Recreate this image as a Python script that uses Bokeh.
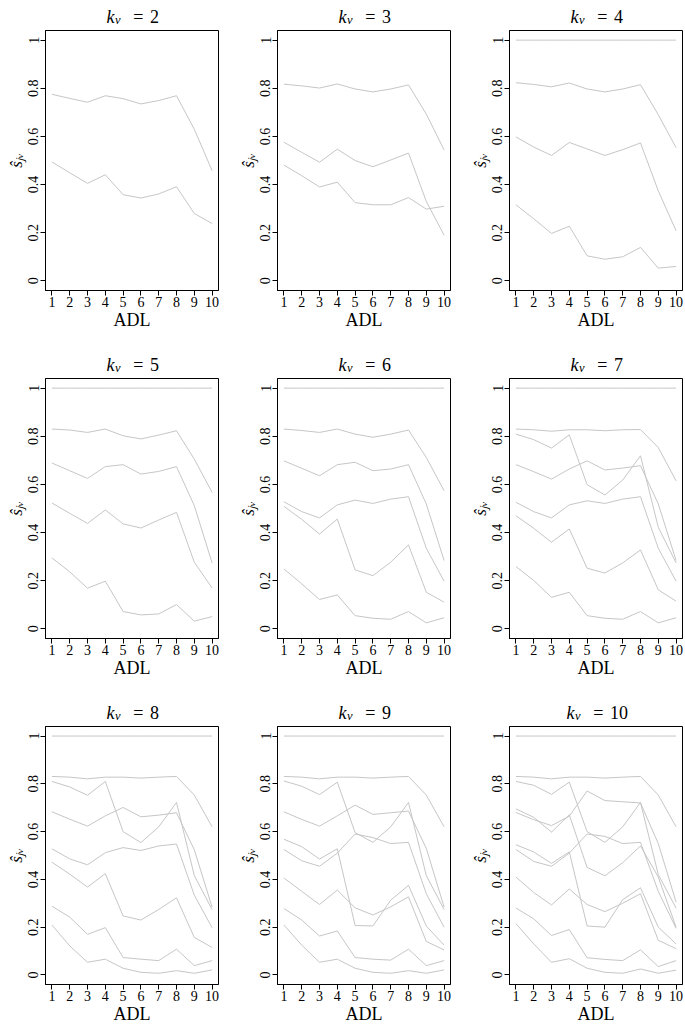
import math
from bokeh.plotting import figure
from bokeh.models import Range1d, FixedTicker, CustomJSTickFormatter
from bokeh.core.properties import value
from bokeh.layouts import column, row
from bokeh.embed import file_html
from bokeh.resources import INLINE

# ---------------- data ----------------
ADL = [1, 2, 3, 4, 5, 6, 7, 8, 9, 10]
KV = [2, 3, 4, 5, 6, 7, 8, 9, 10]
Y_TICKS = [0, 0.2, 0.4, 0.6, 0.8, 1]
Y_LABEL = "\u015d\u2c7c\u1d65"   # s-hat with subscript j v

ONE = [1.0, 1.0, 1.0, 1.0, 1.0, 1.0, 1.0, 1.0, 1.0, 1.0]

s_kv2 = [
    [0.775, 0.758, 0.742, 0.769, 0.757, 0.735, 0.749, 0.769, 0.630, 0.458],
    [0.494, 0.449, 0.405, 0.441, 0.358, 0.344, 0.361, 0.391, 0.280, 0.238],
]
s_kv3 = [
    [0.817, 0.810, 0.801, 0.818, 0.797, 0.785, 0.797, 0.814, 0.693, 0.544],
    [0.576, 0.534, 0.493, 0.547, 0.500, 0.474, 0.502, 0.531, 0.330, 0.190],
    [0.481, 0.437, 0.390, 0.410, 0.325, 0.316, 0.316, 0.346, 0.298, 0.310],
]
s_kv4 = [
    ONE,
    [0.823, 0.816, 0.806, 0.822, 0.797, 0.785, 0.797, 0.815, 0.690, 0.553],
    [0.598, 0.556, 0.521, 0.575, 0.548, 0.521, 0.545, 0.573, 0.374, 0.208],
    [0.316, 0.258, 0.197, 0.227, 0.104, 0.090, 0.100, 0.139, 0.053, 0.060],
]
s_kv5 = [
    ONE,
    [0.830, 0.826, 0.816, 0.830, 0.802, 0.789, 0.805, 0.823, 0.705, 0.567],
    [0.689, 0.657, 0.625, 0.674, 0.682, 0.643, 0.654, 0.674, 0.512, 0.274],
    [0.523, 0.480, 0.438, 0.494, 0.436, 0.419, 0.452, 0.484, 0.277, 0.170],
    [0.295, 0.237, 0.169, 0.198, 0.072, 0.058, 0.062, 0.101, 0.032, 0.051],
]
s_kv6 = [
    ONE,
    [0.830, 0.824, 0.816, 0.830, 0.809, 0.796, 0.809, 0.826, 0.712, 0.574],
    [0.698, 0.667, 0.636, 0.682, 0.692, 0.657, 0.664, 0.682, 0.519, 0.284],
    [0.528, 0.487, 0.461, 0.515, 0.535, 0.521, 0.539, 0.549, 0.335, 0.198],
    [0.509, 0.455, 0.394, 0.456, 0.245, 0.221, 0.277, 0.349, 0.152, 0.111],
    [0.249, 0.187, 0.122, 0.141, 0.055, 0.044, 0.040, 0.072, 0.025, 0.046],
]
s_kv7 = [
    ONE,
    [0.830, 0.827, 0.821, 0.827, 0.827, 0.823, 0.827, 0.828, 0.753, 0.615],
    [0.809, 0.786, 0.751, 0.806, 0.599, 0.556, 0.618, 0.719, 0.422, 0.274],
    [0.682, 0.653, 0.622, 0.664, 0.698, 0.660, 0.668, 0.678, 0.519, 0.284],
    [0.526, 0.487, 0.461, 0.515, 0.532, 0.521, 0.539, 0.549, 0.335, 0.198],
    [0.470, 0.418, 0.360, 0.415, 0.252, 0.232, 0.274, 0.328, 0.162, 0.115],
    [0.259, 0.201, 0.131, 0.152, 0.055, 0.044, 0.040, 0.072, 0.025, 0.046],
]
s_kv8 = [
    ONE,
    [0.831, 0.828, 0.821, 0.828, 0.828, 0.824, 0.828, 0.831, 0.753, 0.620],
    [0.810, 0.787, 0.752, 0.810, 0.600, 0.554, 0.620, 0.722, 0.416, 0.274],
    [0.683, 0.652, 0.623, 0.666, 0.701, 0.662, 0.669, 0.679, 0.524, 0.284],
    [0.528, 0.486, 0.461, 0.512, 0.533, 0.521, 0.540, 0.548, 0.334, 0.198],
    [0.472, 0.422, 0.368, 0.424, 0.247, 0.230, 0.274, 0.323, 0.157, 0.115],
    [0.288, 0.242, 0.170, 0.198, 0.073, 0.066, 0.060, 0.108, 0.039, 0.060],
    [0.209, 0.122, 0.053, 0.066, 0.028, 0.011, 0.007, 0.018, 0.007, 0.021],
]
s_kv9 = [
    ONE,
    [0.831, 0.828, 0.821, 0.828, 0.828, 0.824, 0.828, 0.831, 0.753, 0.620],
    [0.812, 0.790, 0.755, 0.807, 0.596, 0.555, 0.620, 0.722, 0.416, 0.274],
    [0.683, 0.651, 0.623, 0.666, 0.711, 0.672, 0.679, 0.686, 0.530, 0.284],
    [0.568, 0.537, 0.485, 0.528, 0.207, 0.205, 0.313, 0.375, 0.205, 0.125],
    [0.525, 0.478, 0.455, 0.510, 0.590, 0.575, 0.550, 0.555, 0.340, 0.200],
    [0.406, 0.350, 0.295, 0.355, 0.281, 0.251, 0.285, 0.327, 0.140, 0.105],
    [0.278, 0.230, 0.163, 0.184, 0.073, 0.066, 0.062, 0.108, 0.039, 0.060],
    [0.209, 0.125, 0.053, 0.066, 0.028, 0.011, 0.007, 0.018, 0.007, 0.021],
]
s_kv10 = [
    ONE,
    [0.831, 0.828, 0.821, 0.828, 0.828, 0.824, 0.828, 0.831, 0.753, 0.620],
    [0.810, 0.794, 0.756, 0.807, 0.600, 0.555, 0.620, 0.722, 0.420, 0.280],
    [0.695, 0.660, 0.598, 0.670, 0.450, 0.415, 0.470, 0.540, 0.410, 0.200],
    [0.680, 0.650, 0.625, 0.665, 0.770, 0.730, 0.725, 0.720, 0.550, 0.305],
    [0.545, 0.515, 0.467, 0.515, 0.205, 0.200, 0.315, 0.365, 0.200, 0.130],
    [0.525, 0.475, 0.455, 0.510, 0.590, 0.580, 0.550, 0.555, 0.350, 0.195],
    [0.410, 0.345, 0.293, 0.360, 0.295, 0.265, 0.300, 0.340, 0.145, 0.110],
    [0.280, 0.235, 0.165, 0.190, 0.072, 0.065, 0.060, 0.105, 0.035, 0.060],
    [0.215, 0.130, 0.053, 0.068, 0.028, 0.011, 0.007, 0.025, 0.007, 0.020],
]
PANELS = [s_kv2, s_kv3, s_kv4, s_kv5, s_kv6, s_kv7, s_kv8, s_kv9, s_kv10]

# ---------------- style / layout ----------------
SERIF = "Liberation Serif"
LINE_COLOR = "#c6c6c6"
CELL_W = [232, 232, 221]       # cell widths per column
B_RIGHT = [14, 14, 3]
FRAME_LEFT = 45                # frame left edge inside a cell
FRAME_W = 173
CELL_H = [348, 348, 330]       # cell heights per row
TITLE_H = [28, 28, 28]         # strip holding the panel title
B_TOP = 2
B_BOTTOM = [58, 58, 40]
X_LO, X_HI = 0.64, 10.36
Y_LO, Y_HI = -0.04, 1.04


def txt(p, x, y, text, size="14px", style="normal", align="left",
        baseline="alphabetic"):
    p.text(x=[x], y=[y], text=[text],
           text_font=value(SERIF), text_font_size=value(size),
           text_font_style=value(style), text_align=value(align),
           text_baseline=value(baseline), text_color="black")


def title_strip(kv, r, c):
    w, h = CELL_W[c], TITLE_H[r]
    # the strip's frame is aligned by the layout with the panel frame below,
    # so x runs in pixels across the panel frame width
    p = figure(width=w, height=h, x_range=Range1d(0, FRAME_W), y_range=Range1d(0, h),
               x_axis_type=None, y_axis_type=None,
               output_backend="svg", toolbar_location=None,
               min_border=0, min_border_left=FRAME_LEFT, min_border_right=B_RIGHT[c],
               min_border_top=0, min_border_bottom=0)
    p.outline_line_color = None
    p.background_fill_color = "white"
    p.border_fill_color = "white"
    p.xgrid.visible = False
    p.ygrid.visible = False
    xc = FRAME_W / 2
    num = str(kv)
    left = xc - (27 if len(num) == 1 else 31)
    base = 12                      # baseline, px above the strip bottom
    txt(p, left + 1.5, base, "k", size="18px", style="italic")
    txt(p, left + 10, base - 3, "v", size="12.5px", style="italic")
    txt(p, left + 33.4, base, "=", size="18px", align="center")
    txt(p, left + 45, base, num, size="18px")
    return p


def main_panel(lines, r, c):
    p = figure(width=CELL_W[c], height=CELL_H[r] - TITLE_H[r],
               x_range=Range1d(X_LO, X_HI), y_range=Range1d(Y_LO, Y_HI),
               output_backend="svg", toolbar_location=None,
               min_border_left=FRAME_LEFT, min_border_right=B_RIGHT[c],
               min_border_top=B_TOP, min_border_bottom=B_BOTTOM[r])
    p.background_fill_color = "white"
    p.border_fill_color = "white"
    p.xgrid.visible = False
    p.ygrid.visible = False
    p.outline_line_color = "black"
    p.outline_line_width = 1
    p.outline_line_alpha = 1.0

    for ys in lines:
        p.line(ADL, ys, line_color=LINE_COLOR, line_width=1)

    xa = p.xaxis[0]
    xa.ticker = FixedTicker(ticks=ADL)
    xa.axis_label = "ADL"
    xa.axis_label_text_font = SERIF
    xa.axis_label_text_font_size = "18px"
    xa.axis_label_text_font_style = "normal"
    xa.axis_label_text_color = "black"
    xa.axis_label_standoff = 0
    xa.major_label_text_font = SERIF
    xa.major_label_text_font_size = "14px"
    xa.major_label_text_color = "black"
    xa.major_label_standoff = 1
    xa.major_tick_out = 5
    xa.major_tick_in = 0
    xa.minor_tick_line_color = None
    xa.axis_line_color = "black"
    xa.major_tick_line_color = "black"

    ya = p.yaxis[0]
    ya.ticker = FixedTicker(ticks=Y_TICKS)
    ya.formatter = CustomJSTickFormatter(code="""
        if (Math.abs(tick) < 1e-9) return "0";
        if (Math.abs(tick - 1) < 1e-9) return "1";
        return tick.toFixed(1);
    """)
    ya.major_label_orientation = "vertical"
    ya.major_label_text_font = SERIF
    ya.major_label_text_font_size = "14px"
    ya.major_label_text_color = "black"
    ya.major_label_standoff = 2
    ya.major_tick_out = 5
    ya.major_tick_in = 0
    ya.minor_tick_line_color = None
    ya.axis_line_color = "black"
    ya.major_tick_line_color = "black"
    ya.axis_label = Y_LABEL
    ya.axis_label_text_font = SERIF
    ya.axis_label_text_font_size = "17px"
    ya.axis_label_text_font_style = "italic"
    ya.axis_label_text_color = "black"
    ya.axis_label_standoff = 0
    return p


rows = []
for r in range(3):
    cells = []
    for c in range(3):
        i = r * 3 + c
        cells.append(column(title_strip(KV[i], r, c), main_panel(PANELS[i], r, c)))
    rows.append(row(*cells))
layout = column(*rows)

open("out.html", "w").write(file_html(layout, INLINE))
